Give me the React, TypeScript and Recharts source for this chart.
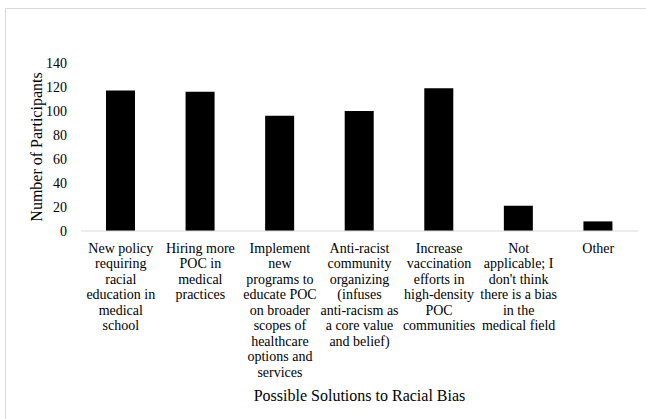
import { BarChart, Bar, XAxis, YAxis } from "recharts";

const categoryLines: string[][] = [
  ["New policy", "requiring", "racial", "education in", "medical", "school"],
  ["Hiring more", "POC in", "medical", "practices"],
  [
    "Implement",
    "new",
    "programs to",
    "educate POC",
    "on broader",
    "scopes of",
    "healthcare",
    "options and",
    "services",
  ],
  [
    "Anti-racist",
    "community",
    "organizing",
    "(infuses",
    "anti-racism as",
    "a core value",
    "and belief)",
  ],
  ["Increase", "vaccination", "efforts in", "high-density", "POC", "communities"],
  ["Not", "applicable; I", "don't think", "there is a bias", "in the", "medical field"],
  ["Other"],
];

const participants = [117, 116, 96, 100, 119, 21, 8];

const yTicks = [0, 20, 40, 60, 80, 100, 120, 140];

const data = categoryLines.map((lines, i) => ({
  name: lines.join(" "),
  count: participants[i],
}));

const FONT = "Liberation Serif, Times New Roman, serif";

const CategoryTick = ({ x, y, payload }: any) => {
  const lines = categoryLines[payload.index] || [payload.value];
  return (
    <text
      x={x}
      y={y}
      textAnchor="middle"
      style={{ fontFamily: FONT, fontSize: 14 }}
      fill="#000"
    >
      {lines.map((line, i) => (
        <tspan key={i} x={x} dy={i === 0 ? 21.5 : 15.5}>
          {line}
        </tspan>
      ))}
    </text>
  );
};

const YTitle = ({ viewBox }: any) => {
  const cy = viewBox ? viewBox.y + viewBox.height / 2 : 147;
  return (
    <text
      transform={`translate(36, ${cy}) rotate(-90)`}
      textAnchor="middle"
      dominantBaseline="central"
      style={{ fontFamily: FONT, fontSize: 16 }}
      fill="#000"
    >
      Number of Participants
    </text>
  );
};

const XTitle = ({ viewBox }: any) => {
  const cx = viewBox ? viewBox.x + viewBox.width / 2 : 359;
  const by = viewBox ? viewBox.y + viewBox.height - 18 : 401;
  return (
    <text
      x={cx}
      y={by}
      textAnchor="middle"
      style={{ fontFamily: FONT, fontSize: 16 }}
      fill="#000"
    >
      Possible Solutions to Racial Bias
    </text>
  );
};

export default function App() {
  return (
    <div
      style={{
        position: "relative",
        width: 646,
        height: 419,
        overflow: "hidden",
        background: "#fff",
        fontFamily: FONT,
      }}
    >
      <style>{"body{margin:0;overflow:hidden;} .recharts-text{font-family:'Liberation Serif','Times New Roman',serif;}"}</style>
      <div
        style={{
          position: "absolute",
          left: 5,
          top: 8,
          width: 800,
          height: 600,
          border: "1.5px solid #d9d9d9",
        }}
      />
      <div style={{ position: "absolute", left: 0, top: 0 }}>
        <BarChart
          width={646}
          height={419}
          data={data}
          margin={{ top: 63, right: 8, bottom: 0, left: 0 }}
          style={{ fontFamily: FONT }}
        >
          <XAxis
            dataKey="name"
            height={188}
            interval={0}
            tickLine={false}
            tickSize={0}
            tickMargin={0}
            axisLine={{ stroke: "#d9d9d9", strokeWidth: 1 }}
            tick={<CategoryTick />}
            label={<XTitle />}
          />
          <YAxis
            width={81}
            domain={[0, 140]}
            ticks={yTicks}
            interval={0}
            tickLine={false}
            axisLine={false}
            tickSize={14}
            tickMargin={0}
            tick={{ fontSize: 14, fill: "#000" }}
            label={<YTitle />}
          />
          <Bar
            dataKey="count"
            fill="#000"
            barSize={29}
            isAnimationActive={false}
          />
        </BarChart>
      </div>
    </div>
  );
}
